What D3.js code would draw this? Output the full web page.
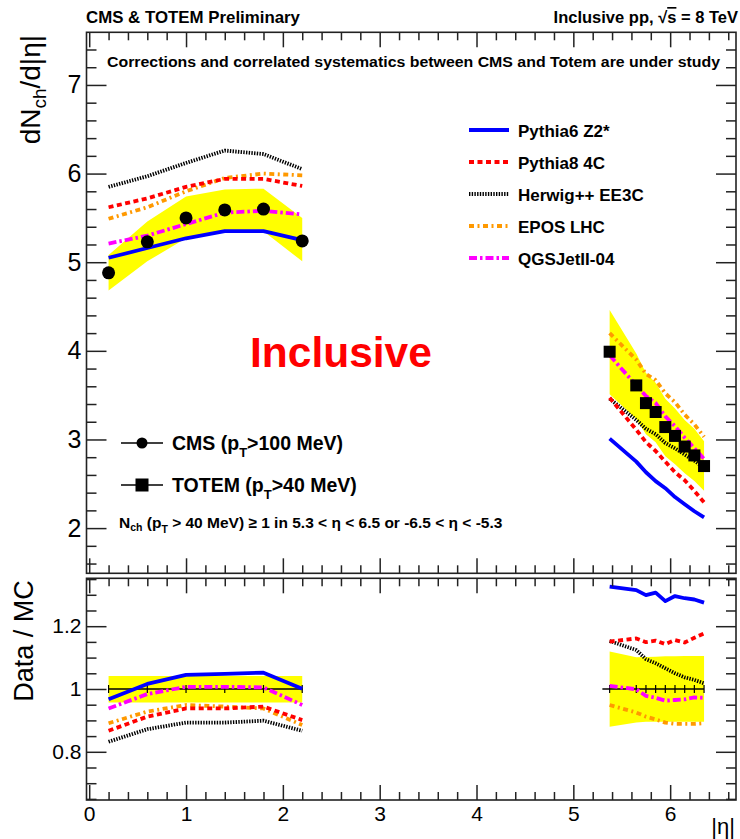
<!DOCTYPE html>
<html>
<head>
<meta charset="utf-8">
<script src="https://cdn.jsdelivr.net/npm/d3@7"></script>
<style>
  body { margin: 0; background: #fff; }
  svg { display: block; font-family: "Liberation Sans", Arial, Helvetica, sans-serif; }
</style>
</head>
<body>
<svg id="chart" width="740" height="839"></svg>
<script>
// ---- CMS points (|eta| < 2.2) ----
const cmsEta   = [0.2, 0.6, 1.0, 1.4, 1.8, 2.2];
const cmsVal   = [4.88, 5.23, 5.50, 5.59, 5.60, 5.24];
const cmsSysHi = [5.08, 5.46, 5.74, 5.82, 5.83, 5.50];
const cmsSysLo = [4.68, 5.01, 5.27, 5.35, 5.35, 5.01];

// ---- TOTEM points (5.3 < |eta| < 6.5) ----
const totemEta   = [5.375, 5.65, 5.75, 5.85, 5.95, 6.05, 6.15, 6.25, 6.35];
const totemVal   = [3.99, 3.61, 3.41, 3.31, 3.14, 3.04, 2.92, 2.82, 2.70];
const totemSysHi = [4.46, 3.97, 3.75, 3.64, 3.46, 3.35, 3.22, 3.12, 2.98];
const totemSysLo = [3.51, 3.23, 3.06, 2.97, 2.81, 2.72, 2.62, 2.53, 2.42];

// ---- MC predictions, central region ----
const p6Cms   = [5.05, 5.16, 5.27, 5.35, 5.35, 5.25];
const p8Cms   = [5.62, 5.72, 5.85, 5.94, 5.94, 5.86];
const hwCms   = [5.85, 5.97, 6.12, 6.26, 6.22, 6.05];
const eposCms = [5.49, 5.62, 5.80, 5.95, 6.00, 5.98];
const qgsCms  = [5.21, 5.30, 5.43, 5.56, 5.58, 5.54];

// ---- MC predictions, forward region ----
const p6Tot   = [3.01, 2.75, 2.63, 2.53, 2.45, 2.35, 2.27, 2.19, 2.12];
const p8Tot   = [3.47, 3.11, 2.97, 2.87, 2.75, 2.63, 2.54, 2.42, 2.29];
const hwTot   = [3.46, 3.22, 3.12, 3.06, 2.96, 2.90, 2.83, 2.76, 2.68];
const eposTot = [4.20, 3.90, 3.74, 3.67, 3.52, 3.42, 3.28, 3.17, 3.03];
const qgsTot  = [3.95, 3.61, 3.49, 3.41, 3.26, 3.15, 3.02, 2.90, 2.78];

// ---- Data / MC, central region ----
const p6RatioCms   = [0.967, 1.016, 1.045, 1.048, 1.052, 1.001];
const p8RatioCms   = [0.867, 0.912, 0.938, 0.938, 0.944, 0.901];
const hwRatioCms   = [0.832, 0.872, 0.893, 0.893, 0.899, 0.867];
const eposRatioCms = [0.891, 0.928, 0.949, 0.944, 0.938, 0.885];
const qgsRatioCms  = [0.938, 0.984, 1.007, 1.007, 1.005, 0.949];
const sysRatioCmsHi = [1.041, 1.041, 1.041, 1.041, 1.041, 1.041];
const sysRatioCmsLo = [0.957, 0.957, 0.957, 0.957, 0.957, 0.957];

// ---- Data / MC, forward region ----
const p6RatioTot   = [1.326, 1.315, 1.299, 1.307, 1.280, 1.296, 1.289, 1.285, 1.275];
const p8RatioTot   = [1.151, 1.161, 1.149, 1.154, 1.143, 1.156, 1.148, 1.163, 1.177];
const hwRatioTot   = [1.153, 1.124, 1.095, 1.082, 1.066, 1.050, 1.037, 1.029, 1.018];
const eposRatioTot = [0.949, 0.925, 0.912, 0.903, 0.893, 0.889, 0.889, 0.889, 0.891];
const qgsRatioTot  = [1.010, 0.999, 0.978, 0.972, 0.963, 0.965, 0.967, 0.973, 0.972];
const sysRatioTotHi = [1.119, 1.101, 1.102, 1.103, 1.104, 1.104, 1.105, 1.105, 1.105];
const sysRatioTotLo = [0.880, 0.893, 0.896, 0.896, 0.896, 0.896, 0.896, 0.896, 0.896];

// ---- labels ----
const modelNames = ["Pythia6 Z2*", "Pythia8 4C", "Herwig++ EE3C", "EPOS LHC", "QGSJetII-04"];
const xTickLabels = [0, 1, 2, 3, 4, 5, 6];
const yTickLabels = [2, 3, 4, 5, 6, 7];
const ratioTickLabels = [0.8, 1, 1.2];

// ---- styles ----
const modelColors = ["#0000ff", "#ff0000", "#000000", "#ff9900", "#ff00ff"];
const modelDash   = [null, "5,3.5", "1.4,1.3", "5,3.5,2,3.5", "8,3,2.5,3"];

const svg = d3.select("#chart");
svg.append("rect").attr("width", 740).attr("height", 839).attr("fill", "#fff");

const L = 86.5, R = 736;
const upTop = 32.3, upBot = 573.3, loTop = 578.3, loBot = 800;

const x = d3.scaleLinear().domain([-0.028, 6.68]).range([L, R]);
const yU = d3.scaleLinear().domain([1.49, 7.594]).range([upBot, upTop]);
const yR = d3.scaleLinear().domain([0.6465, 1.3525]).range([loBot, loTop]);

const line = (ys, yScale, xs) => d3.line()
  .x((d, i) => x(xs[i])).y(d => yScale(d))(ys);
const band = (hi, lo, yScale, xs) => d3.area()
  .x((d, i) => x(xs[i])).y0((d, i) => yScale(lo[i])).y1(d => yScale(d))(hi);

function drawModel(g, ys, yScale, xs, k) {
  g.append("path").attr("d", line(ys, yScale, xs))
    .attr("fill", "none").attr("stroke", modelColors[k]).attr("stroke-width", 3.8)
    .attr("stroke-dasharray", modelDash[k]).attr("stroke-linejoin", "round");
}

// ===== upper panel =====
const gU = svg.append("g");
gU.append("path").attr("d", band(cmsSysHi, cmsSysLo, yU, cmsEta)).attr("fill", "#ffff00");
gU.append("path").attr("d", band(totemSysHi, totemSysLo, yU, totemEta)).attr("fill", "#ffff00");

const cmsModels = [p6Cms, p8Cms, hwCms, eposCms, qgsCms];
const totModels = [p6Tot, p8Tot, hwTot, eposTot, qgsTot];
[2, 3, 1, 4, 0].forEach(k => {
  drawModel(gU, cmsModels[k], yU, cmsEta, k);
  drawModel(gU, totModels[k], yU, totemEta, k);
});

gU.selectAll("circle.cms").data(cmsVal).join("circle")
  .attr("cx", (d, i) => x(cmsEta[i])).attr("cy", d => yU(d)).attr("r", 6.5).attr("fill", "#000");
gU.selectAll("rect.tot").data(totemVal).join("rect")
  .attr("x", (d, i) => x(totemEta[i]) - 6).attr("y", d => yU(d) - 6)
  .attr("width", 12).attr("height", 12).attr("fill", "#000");

// ===== lower panel =====
const gR = svg.append("g");
gR.append("path").attr("d", band(sysRatioCmsHi, sysRatioCmsLo, yR, cmsEta)).attr("fill", "#ffff00");
gR.append("path").attr("d", band(sysRatioTotHi, sysRatioTotLo, yR, totemEta)).attr("fill", "#ffff00");

// reference line at unity with the data points
function unityLine(xs, x0) {
  gR.append("line").attr("x1", x(x0)).attr("x2", x(xs[xs.length - 1]))
    .attr("y1", yR(1)).attr("y2", yR(1)).attr("stroke", "#000").attr("stroke-width", 1.5);
  gR.selectAll(null).data(xs).join("line")
    .attr("x1", d => x(d)).attr("x2", d => x(d))
    .attr("y1", yR(1) - 4).attr("y2", yR(1) + 4).attr("stroke", "#000").attr("stroke-width", 1.2);
}
unityLine(cmsEta, cmsEta[0]);
unityLine(totemEta, 5.3);

const cmsRatios = [p6RatioCms, p8RatioCms, hwRatioCms, eposRatioCms, qgsRatioCms];
const totRatios = [p6RatioTot, p8RatioTot, hwRatioTot, eposRatioTot, qgsRatioTot];
[2, 3, 1, 4, 0].forEach(k => {
  drawModel(gR, cmsRatios[k], yR, cmsEta, k);
  drawModel(gR, totRatios[k], yR, totemEta, k);
});

// ===== axes and frames =====
const axisColor = "#222";
function styleAxis(g) {
  g.select(".domain").remove();
  g.selectAll(".tick line").attr("stroke", axisColor).attr("stroke-width", 1.5);
  g.selectAll("text").attr("fill", "#000");
}
const range = (a, b, s) => d3.range(Math.round((b - a) / s) + 1).map(i => +(a + i * s).toFixed(4));
const xMinor = range(0, 6.6, 0.2).filter(v => Math.abs(v - Math.round(v)) > 1e-6);
const yMinor = range(1.6, 7.4, 0.2).filter(v => Math.abs(v - Math.round(v)) > 1e-6);
const rMinor = range(0.65, 1.35, 0.05).filter(v => Math.abs(v * 5 - Math.round(v * 5)) > 1e-6);

function xTicks(yPos, dir, labels) {
  const mk = dir === "top" ? d3.axisTop : d3.axisBottom;
  const gMaj = svg.append("g").attr("transform", `translate(0,${yPos})`)
    .call(mk(x).tickValues(xTickLabels).tickSize(-15).tickPadding(6)
      .tickFormat(labels ? d3.format("d") : ""));
  styleAxis(gMaj);
  gMaj.selectAll("text").attr("font-size", 21);
  const gMin = svg.append("g").attr("transform", `translate(0,${yPos})`)
    .call(mk(x).tickValues(xMinor).tickSize(-8).tickFormat(""));
  styleAxis(gMin);
}
xTicks(upTop, "top", false);
xTicks(upBot, "bottom", false);
xTicks(loTop, "top", false);
xTicks(loBot, "bottom", true);

function yTicks(scale, major, minor, fmt, fs) {
  const gl = svg.append("g").attr("transform", `translate(${L},0)`)
    .call(d3.axisLeft(scale).tickValues(major).tickSize(-20).tickPadding(5).tickFormat(fmt));
  styleAxis(gl);
  gl.selectAll("text").attr("font-size", fs);
  styleAxis(svg.append("g").attr("transform", `translate(${L},0)`)
    .call(d3.axisLeft(scale).tickValues(minor).tickSize(-10).tickFormat("")));
  styleAxis(svg.append("g").attr("transform", `translate(${R},0)`)
    .call(d3.axisRight(scale).tickValues(major).tickSize(-20).tickFormat("")));
  styleAxis(svg.append("g").attr("transform", `translate(${R},0)`)
    .call(d3.axisRight(scale).tickValues(minor).tickSize(-10).tickFormat("")));
}
yTicks(yU, yTickLabels, yMinor, d3.format("d"), 25);
yTicks(yR, ratioTickLabels, rMinor, d => d === 1 ? "1" : d3.format(".1f")(d), 21);

[[upTop, upBot], [loTop, loBot]].forEach(([t, b]) => {
  svg.append("rect").attr("x", L).attr("y", t).attr("width", R - L).attr("height", b - t)
    .attr("fill", "none").attr("stroke", axisColor).attr("stroke-width", 1.6);
});

// ===== texts =====
svg.append("text").attr("x", 86).attr("y", 23).attr("font-size", 16.5).attr("font-weight", "bold")
  .attr("textLength", 214).attr("lengthAdjust", "spacingAndGlyphs").text("CMS & TOTEM Preliminary");
const tr = svg.append("text").attr("x", 738).attr("y", 23).attr("font-size", 16.5)
  .attr("font-weight", "bold").attr("text-anchor", "end");
tr.append("tspan").text("Inclusive pp, √");
tr.append("tspan").attr("text-decoration", "overline").text("s");
tr.append("tspan").text(" = 8 TeV");

svg.append("text").attr("x", 107).attr("y", 67).attr("font-size", 14).attr("font-weight", "bold")
  .attr("textLength", 613).attr("lengthAdjust", "spacingAndGlyphs")
  .text("Corrections and correlated systematics between CMS and Totem are under study");

svg.append("text").attr("x", 250).attr("y", 367).attr("font-size", 42.5).attr("font-weight", "bold")
  .attr("fill", "#ff0000").text("Inclusive");

// axis titles
const yt = svg.append("text").attr("transform", "translate(40,35) rotate(-90)")
  .attr("text-anchor", "end").attr("font-size", 28);
yt.append("tspan").text("dN");
yt.append("tspan").attr("font-size", 19).attr("dy", 6).text("ch");
yt.append("tspan").attr("dy", -6).text("/d|η|");

svg.append("text").attr("transform", "translate(33,641) rotate(-90)")
  .attr("text-anchor", "middle").attr("font-size", 27).text("Data / MC");

svg.append("text").attr("x", 735).attr("y", 834).attr("text-anchor", "end")
  .attr("font-size", 22).text("|η|");

// model legend
const legY0 = 130, legStep = 32;
const leg = svg.append("g");
modelNames.forEach((name, k) => {
  const yy = legY0 + k * legStep;
  leg.append("line").attr("x1", 469).attr("x2", 509).attr("y1", yy).attr("y2", yy)
    .attr("stroke", modelColors[k]).attr("stroke-width", 3.8).attr("stroke-dasharray", modelDash[k]);
  leg.append("text").attr("x", 518).attr("y", yy + 6.5).attr("font-size", 17)
    .attr("font-weight", "bold").text(name);
});

// data legend
function dataEntry(yy, marker, pre, post) {
  leg.append("line").attr("x1", 121).attr("x2", 163).attr("y1", yy).attr("y2", yy)
    .attr("stroke", "#000").attr("stroke-width", 1.5);
  if (marker === "circle") {
    leg.append("circle").attr("cx", 142).attr("cy", yy).attr("r", 5.5).attr("fill", "#000");
  } else {
    leg.append("rect").attr("x", 135.5).attr("y", yy - 6.5).attr("width", 13).attr("height", 13).attr("fill", "#000");
  }
  const t = leg.append("text").attr("x", 172).attr("y", yy + 7).attr("font-size", 19.5).attr("font-weight", "bold");
  t.append("tspan").text(pre);
  t.append("tspan").attr("font-size", 13).attr("dy", 7).text("T");
  t.append("tspan").attr("dy", -7).text(post);
}
dataEntry(443, "circle", "CMS (p", ">100 MeV)");
dataEntry(485, "square", "TOTEM (p", ">40 MeV)");

const nt = leg.append("text").attr("x", 119).attr("y", 528).attr("font-size", 15.5).attr("font-weight", "bold");
nt.append("tspan").text("N");
nt.append("tspan").attr("font-size", 10.5).attr("dy", 3).text("ch");
nt.append("tspan").attr("dy", -3).text(" (p");
nt.append("tspan").attr("font-size", 10.5).attr("dy", 5).text("T");
nt.append("tspan").attr("dy", -5).text(" > 40 MeV) ≥ 1 in 5.3 < η < 6.5 or -6.5 < η < -5.3");
</script>
</body>
</html>
